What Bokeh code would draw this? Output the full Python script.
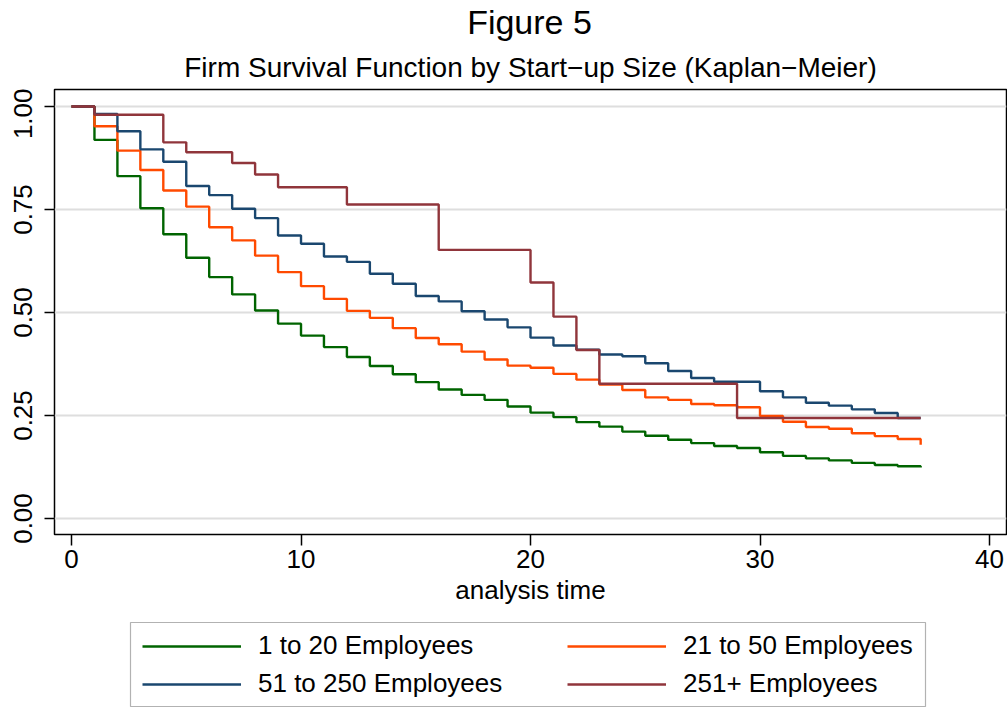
import math
from bokeh.plotting import figure
from bokeh.layouts import column
from bokeh.models import (Range1d, FixedTicker, Label, Legend, LegendItem,
                          BoxAnnotation)
from bokeh.embed import file_html
from bokeh.resources import INLINE

# ---- data (Kaplan-Meier survival estimates) ----
times = list(range(38))

surv_1_20 = [1.000, 0.919, 0.831, 0.753, 0.690, 0.633, 0.586, 0.544, 0.505, 0.473,
             0.444, 0.416, 0.392, 0.370, 0.350, 0.331, 0.313, 0.300, 0.288, 0.272,
             0.257, 0.246, 0.234, 0.223, 0.211, 0.201, 0.191, 0.183, 0.176, 0.171,
             0.161, 0.152, 0.146, 0.141, 0.135, 0.130, 0.127, 0.124]

surv_21_50 = [1.000, 0.952, 0.893, 0.846, 0.796, 0.757, 0.707, 0.675, 0.638, 0.598,
              0.564, 0.533, 0.504, 0.487, 0.462, 0.438, 0.423, 0.405, 0.386, 0.371,
              0.366, 0.351, 0.337, 0.325, 0.312, 0.294, 0.288, 0.278, 0.275, 0.270,
              0.249, 0.235, 0.222, 0.218, 0.207, 0.200, 0.193, 0.179]

surv_51_250 = [1.000, 0.982, 0.940, 0.896, 0.866, 0.807, 0.785, 0.752, 0.729, 0.687,
               0.667, 0.636, 0.623, 0.594, 0.570, 0.540, 0.527, 0.503, 0.483, 0.464,
               0.439, 0.420, 0.410, 0.398, 0.394, 0.377, 0.358, 0.341, 0.332, 0.332,
               0.309, 0.294, 0.281, 0.274, 0.265, 0.256, 0.244, 0.244]

surv_251_plus = [1.000, 0.980, 0.980, 0.980, 0.913, 0.889, 0.889, 0.863, 0.835, 0.804,
                 0.804, 0.804, 0.762, 0.762, 0.762, 0.762, 0.652, 0.652, 0.652, 0.652,
                 0.573, 0.490, 0.409, 0.327, 0.327, 0.327, 0.327, 0.327, 0.327, 0.244,
                 0.244, 0.244, 0.244, 0.244, 0.244, 0.244, 0.244, 0.244]

series_names = ["1 to 20 Employees", "21 to 50 Employees",
                "51 to 250 Employees", "251+ Employees"]
series_values = [surv_1_20, surv_21_50, surv_51_250, surv_251_plus]
series_colors = ["#006400", "#ff4a00", "#1a476f", "#90353b"]

x_ticks = [0, 10, 20, 30, 40]
y_ticks = [0.0, 0.25, 0.5, 0.75, 1.0]
y_tick_labels = ["0.00", "0.25", "0.50", "0.75", "1.00"]

title_text = "Figure 5"
subtitle_text = "Firm Survival Function by Start\u2212up Size (Kaplan\u2212Meier)"
x_label = "analysis time"

FONT = "Liberation Sans"
LW = 2.4


def blank(fig):
    fig.outline_line_color = None
    fig.xgrid.grid_line_color = None
    fig.ygrid.grid_line_color = None
    fig.background_fill_color = "white"
    fig.border_fill_color = "white"


# ---------------- header (titles) ----------------
hd = figure(width=1007, height=88, output_backend="svg", toolbar_location=None,
            x_range=Range1d(0, 1), y_range=Range1d(0, 1),
            x_axis_location=None, y_axis_location=None,
            min_border_left=0, min_border_right=0, min_border_top=0,
            min_border_bottom=0)
blank(hd)
hd.add_layout(Label(x=475, y=67, x_units="screen", y_units="screen",
                    text=title_text, text_font=FONT, text_font_size="34px",
                    text_align="center", text_baseline="middle", text_color="black"))
hd.add_layout(Label(x=476, y=21, x_units="screen", y_units="screen",
                    text=subtitle_text, text_font=FONT, text_font_size="28px",
                    text_align="center", text_baseline="middle", text_color="black"))

# ---------------- main plot ----------------
p = figure(width=1007, height=528, output_backend="svg", toolbar_location=None,
           x_range=Range1d(-0.741, 40.74), y_range=Range1d(-0.0388, 1.0413),
           min_border_left=54, min_border_right=1, min_border_top=1,
           min_border_bottom=82)
p.background_fill_color = "white"
p.border_fill_color = "white"
p.outline_line_color = "black"
p.outline_line_width = 1.5
p.outline_line_alpha = 1.0

p.xaxis.ticker = FixedTicker(ticks=x_ticks)
p.yaxis.ticker = FixedTicker(ticks=y_ticks)
p.yaxis.major_label_overrides = {t: l for t, l in zip(y_ticks, y_tick_labels)}
p.yaxis.major_label_orientation = "parallel"
for ax in (p.xaxis, p.yaxis):
    ax.axis_line_color = None
    ax.major_tick_line_color = "black"
    ax.major_tick_line_width = 1.5
    ax.major_tick_in = 0
    ax.minor_tick_line_color = None
    ax.major_label_text_font = FONT
    ax.major_label_text_font_size = "26px"
    ax.major_label_text_color = "black"
p.xaxis.major_tick_out = 11
p.yaxis.major_tick_out = 10
p.xaxis.major_label_standoff = 4
p.yaxis.major_label_standoff = 12
p.xaxis.axis_label = x_label
p.xaxis.axis_label_text_font = FONT
p.xaxis.axis_label_text_font_size = "26px"
p.xaxis.axis_label_text_font_style = "normal"
p.xaxis.axis_label_text_color = "black"
p.xaxis.axis_label_standoff = 4

p.xgrid.grid_line_color = None
p.ygrid.ticker = FixedTicker(ticks=y_ticks)
p.ygrid.grid_line_color = "#dedede"
p.ygrid.grid_line_width = 2

for vals, col in zip(series_values, series_colors):
    p.step(times, vals, mode="after", line_color=col, line_width=LW)

# ---------------- legend strip ----------------
lg = figure(width=1007, height=91, output_backend="svg", toolbar_location=None,
            x_range=Range1d(1000, 1001), y_range=Range1d(1000, 1001),
            x_axis_location=None, y_axis_location=None,
            min_border_left=0, min_border_right=0, min_border_top=0,
            min_border_bottom=0)
blank(lg)
# proxies of the four curves (outside the strip's view) that give the legend keys
lg_renderers = [lg.step(times, vals, mode="after", line_color=col, line_width=LW)
                for vals, col in zip(series_values, series_colors)]

lg.add_layout(BoxAnnotation(left=76, right=871, bottom=1, top=85,
                            left_units="screen", right_units="screen",
                            bottom_units="screen", top_units="screen",
                            fill_color="white", fill_alpha=1.0,
                            line_color="black", line_width=1.2))


def make_legend(idx, x0):
    return Legend(items=[LegendItem(label=series_names[i], renderers=[lg_renderers[i]])
                         for i in idx],
                  location=(x0, 8), orientation="vertical",
                  border_line_color=None, background_fill_alpha=0.0,
                  label_text_font=FONT, label_text_font_size="26px",
                  label_text_color="black",
                  glyph_width=99, glyph_height=30, label_height=30,
                  label_standoff=17, spacing=7, padding=0, margin=0)


lg.add_layout(make_legend([0, 2], 88), "center")
lg.add_layout(make_legend([1, 3], 513), "center")

layout = column(hd, p, lg, spacing=0)
open("out.html", "w").write(file_html(layout, INLINE))
